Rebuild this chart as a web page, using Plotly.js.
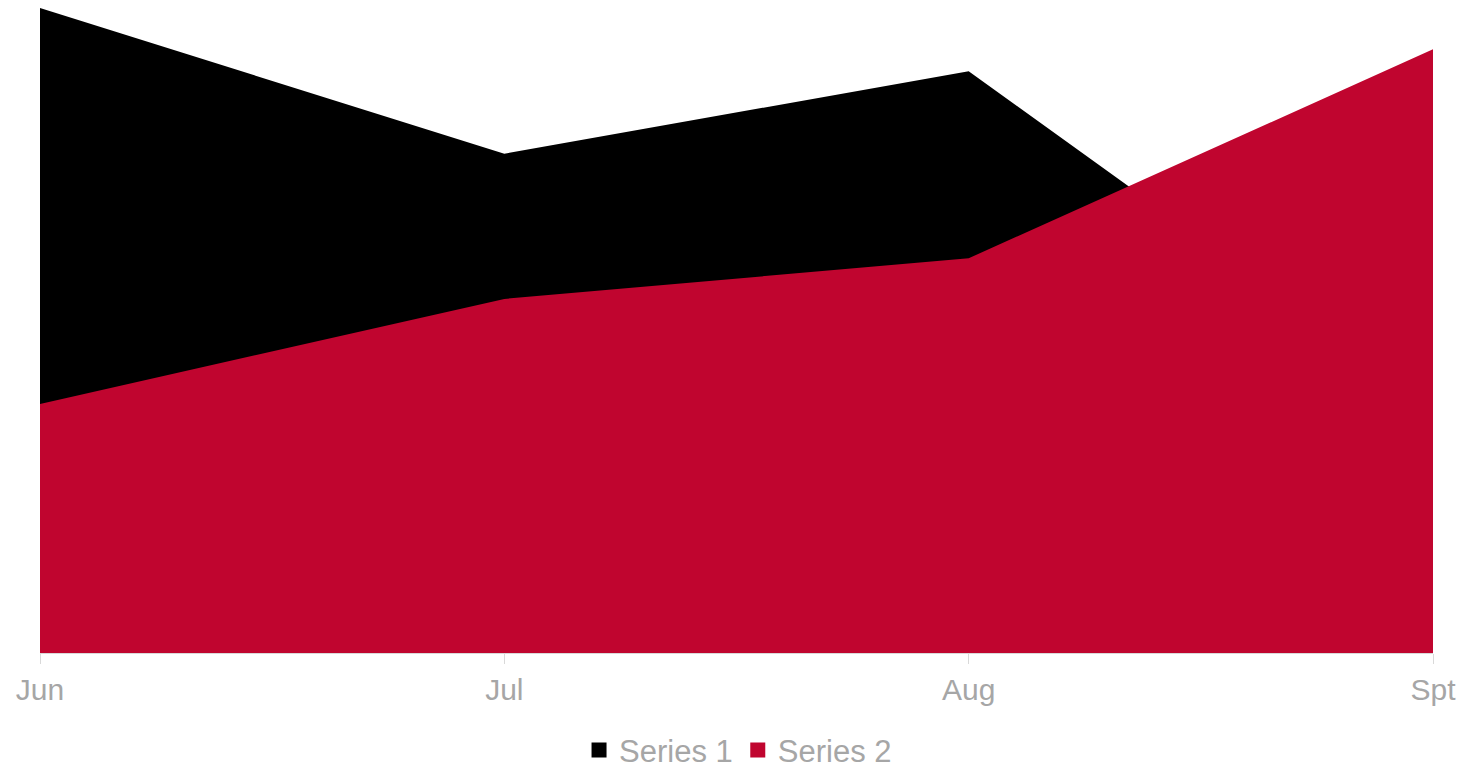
<!DOCTYPE html>
<html>
<head>
<meta charset="utf-8">
<script src="https://cdn.plot.ly/plotly-3.0.1.min.js"></script>
<style>html,body{margin:0;padding:0;background:#fff;}#chart{width:1482px;height:768px;}</style>
</head>
<body>
<div id="chart"></div>
<script>
var months = ["Jun", "Jul", "Aug", "Spt"];
var seriesNames = ["Series 1", "Series 2"];
var series1 = [100, 77.4, 90.2, 38.4];
var series2 = [38.6, 54.9, 61.2, 93.6];
var colors = ["#000000", "#C0052F"];

var data = [series1, series2];
var traces = [];
data.forEach(function (vals, i) {
  traces.push({x: months, y: vals, name: seriesNames[i], type: "scatter", mode: "lines",
    fill: "tozeroy", fillcolor: colors[i], line: {width: 0, color: colors[i]},
    showlegend: false});
});
data.forEach(function (vals, i) {
  traces.push({x: [null], y: [null], name: seriesNames[i], type: "scatter", mode: "markers",
    marker: {symbol: "square", size: 15, color: colors[i]}, showlegend: true});
});

var layout = {
  width: 1482, height: 768,
  margin: {l: 40, r: 49, t: 8, b: 115, autoexpand: false},
  paper_bgcolor: "#ffffff", plot_bgcolor: "#ffffff",
  font: {family: "Liberation Sans, Arial, sans-serif", color: "#A6A6A6", size: 30},
  xaxis: {type: "category", range: [0, 3], showgrid: false, zeroline: false, automargin: false,
          showline: true, linecolor: "#D9D9D9", linewidth: 1,
          ticks: "outside", ticklen: 10, tickcolor: "#D9D9D9",
          tickfont: {size: 30, color: "#A6A6A6"}},
  yaxis: {range: [0, 100], showgrid: false, zeroline: false, showline: false,
          showticklabels: false, ticks: "", automargin: false},
  showlegend: true,
  legend: {orientation: "h", x: 0.498, xanchor: "center", xref: "container",
           y: 0.023, yanchor: "middle", yref: "container",
           font: {size: 31, color: "#A6A6A6"}, itemwidth: 30, traceorder: "normal"},
  hovermode: false
};

Plotly.newPlot("chart", traces, layout, {staticPlot: true, displayModeBar: false});
</script>
</body>
</html>
